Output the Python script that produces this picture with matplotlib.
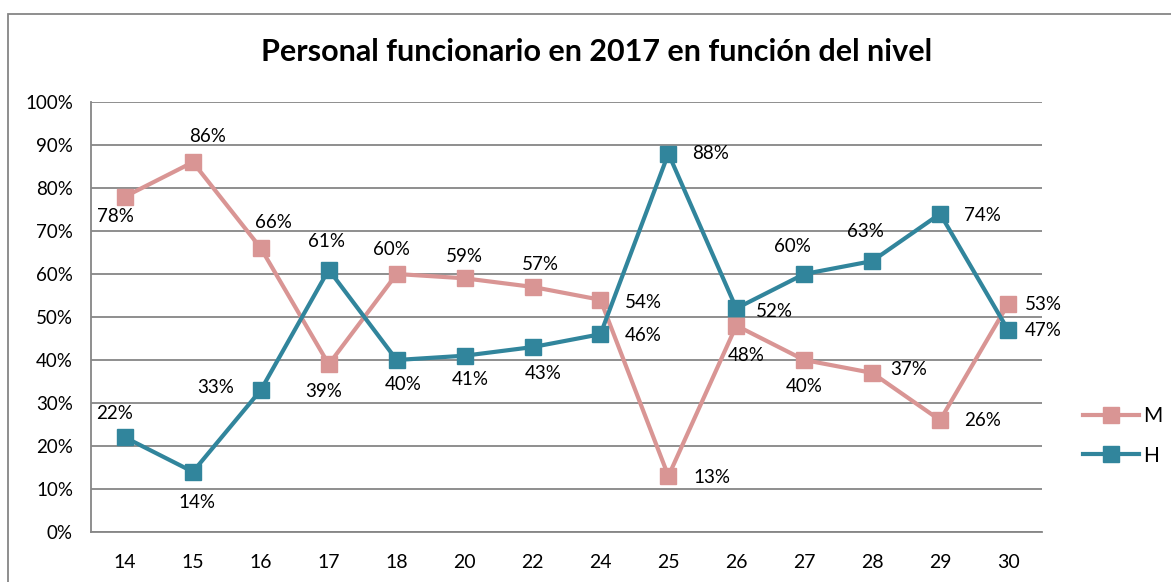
import matplotlib
matplotlib.use("Agg")
import matplotlib.pyplot as plt
from matplotlib.patches import Rectangle
from matplotlib.ticker import PercentFormatter

plt.rcParams['font.family'] = ['Lato', 'DejaVu Sans']

# datos
niveles = ['14', '15', '16', '17', '18', '20', '22', '24', '25', '26', '27', '28', '29', '30']
mujeres = [78, 86, 66, 39, 60, 59, 57, 54, 13, 48, 40, 37, 26, 53]
hombres = [22, 14, 33, 61, 40, 41, 43, 46, 88, 52, 60, 63, 74, 47]
titulo = 'Personal funcionario en 2017 en función del nivel'

# desplazamiento de las etiquetas (pixeles)
off_m = [(-10, -20), (15, 26), (13, 26), (-5, -27), (-5, 24), (0, 22), (8, 22),
         (43, -3), (44, -1), (10, -30), (0, -27), (36, 3), (42, 0), (35, 0)]
off_h = [(-10, 24), (4, -31), (-45, 3), (-2, 28), (7, -25), (6, -24), (11, -26),
         (43, -1), (42, 0), (38, -3), (-12, 27), (-7, 30), (42, -2), (35, -1)]

c_m = '#D99594'
c_h = '#31859C'
gris = '#868686'

fig = plt.figure(figsize=(11.71, 5.82), dpi=100)
ax = fig.add_axes([91 / 1171, 50 / 582, (1042 - 91) / 1171, (532 - 102) / 582])

x = range(len(niveles))
ax.plot(x, mujeres, color=c_m, lw=3, marker='s', ms=11.5, label='M', zorder=3)
ax.plot(x, hombres, color=c_h, lw=3, marker='s', ms=11.5, label='H', zorder=4)

for i in x:
    ax.annotate('%d%%' % mujeres[i], (i, mujeres[i]), xytext=off_m[i],
                textcoords='offset pixels', ha='center', va='center', fontsize=13.5)
    ax.annotate('%d%%' % hombres[i], (i, hombres[i]), xytext=off_h[i],
                textcoords='offset pixels', ha='center', va='center', fontsize=13.5)

ax.set_xlim(-0.5, len(niveles) - 0.5)
ax.set_ylim(0, 100)
ax.set_yticks(range(0, 101, 10))
ax.yaxis.set_major_formatter(PercentFormatter(decimals=0))
ax.set_xticks(list(x))
ax.set_xticklabels(niveles)
ax.tick_params(axis='y', length=0, pad=13, labelsize=13.5)
ax.tick_params(axis='x', length=0, pad=16, labelsize=14)
ax.grid(axis='y', color=gris, lw=1.3)
ax.set_axisbelow(True)
for s in ['top', 'right']:
    ax.spines[s].set_visible(False)
for s in ['left', 'bottom']:
    ax.spines[s].set_color(gris)
    ax.spines[s].set_linewidth(1.3)

fig.text(597 / 1171, 1 - 52 / 582, titulo, ha='center', va='center',
         fontsize=22, fontweight='bold')

ax.legend(loc='upper left', bbox_to_anchor=(1083 / 1171, 1 - 406 / 582),
          bbox_transform=fig.transFigure, frameon=False, fontsize=15,
          handlelength=2.7, handletextpad=0.2, labelspacing=0.95,
          borderpad=0, borderaxespad=0)

fig.patches.append(Rectangle((8 / 1171, -0.1), 1.2, 1.1 - 14 / 582,
                             transform=fig.transFigure, fill=False,
                             edgecolor=gris, lw=1.3, clip_on=False))

fig.savefig('out.png', dpi=100)
